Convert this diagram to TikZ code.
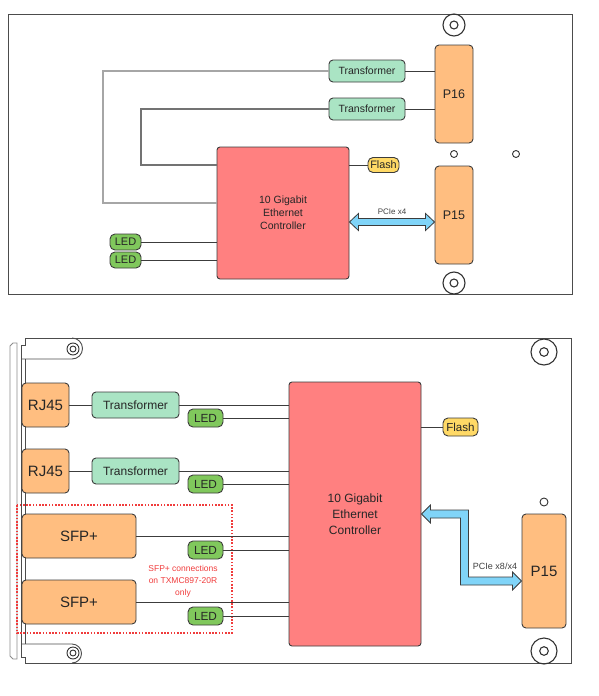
\documentclass[tikz,border=0pt]{standalone}
\usepackage{fontspec}
\setmainfont{Liberation Sans}
\usetikzlibrary{calc}
\definecolor{ctrlred}{RGB}{255,128,128}
\definecolor{trafogreen}{RGB}{170,228,196}
\definecolor{ledgreen}{RGB}{128,200,92}
\definecolor{flashyellow}{RGB}{255,217,102}
\definecolor{connorange}{RGB}{255,190,128}
\definecolor{pciblue}{RGB}{128,212,248}
\definecolor{edge}{RGB}{60,60,60}
\definecolor{notared}{RGB}{240,60,60}
\begin{document}
\begin{tikzpicture}[x=1pt,y=-1pt,
  caja/.style={draw=edge,line width=.9pt,rounded corners=3pt,inner sep=0pt,text=black!85},
  ctrlbox/.style={caja,fill=ctrlred,align=center,minimum width=132pt},
  trafobox/.style={caja,fill=trafogreen,rounded corners=4pt},
  ledbox/.style={caja,fill=ledgreen,rounded corners=5pt},
  flashbox/.style={caja,fill=flashyellow,rounded corners=5pt},
  connbox/.style={caja,fill=connorange,rounded corners=4pt},
  linea/.style={draw=edge,line width=.9pt},
  pcie/.style={fill=pciblue,draw=edge,line width=.8pt,line join=miter},
  pcilbl/.style={text=black!75,inner sep=0pt},
  aro/.style={draw=black!80,line width=1.1pt},
  placa/.style={draw=black!70,line width=.9pt},
  bisel/.style={draw=black!45,line width=.8pt}]
\useasboundingbox (0,0) rectangle (598,696);
%placa superior%
\draw[placa] (8,14) rectangle (572,294);
\foreach \cx/\cy in {454/25,454/283} {\draw[aro] (\cx,\cy) circle (11pt) circle (4pt);}
\foreach \cx in {454,516} {\draw[aro,line width=.9pt] (\cx,154) circle (3.5pt);}
\node[ctrlbox,minimum height=132pt,font=\fontsize{10.5}{13}\selectfont] (ctrlT) at (283,213) {10 Gigabit\\Ethernet\\Controller};
\node[trafobox,minimum width=76pt,minimum height=22pt,font=\fontsize{10.5}{12}\selectfont] (tfA) at (367,71) {Transformer};
\node[trafobox,minimum width=76pt,minimum height=22pt,font=\fontsize{10.5}{12}\selectfont] (tfB) at (367,109) {Transformer};
\node[connbox,minimum width=38pt,minimum height=98pt,font=\fontsize{12.5}{14}\selectfont] (p16) at (454,94) {P16};
\node[connbox,minimum width=38pt,minimum height=98pt,font=\fontsize{12.5}{14}\selectfont] (p15T) at (454,215) {P15};
\node[flashbox,minimum width=31pt,minimum height=15pt,font=\fontsize{10.8}{12}\selectfont] (flashT) at (383.5,165) {Flash};
\node[ledbox,minimum width=31pt,minimum height=16pt,font=\fontsize{11}{12}\selectfont] (ledA) at (125.5,242) {LED};
\node[ledbox,minimum width=31pt,minimum height=16pt,font=\fontsize{11}{12}\selectfont] (ledB) at (125.5,260) {LED};
\coordinate (gA) at (103,203);
\coordinate (gB) at (141,165);
\draw[draw=black!35,line width=1.2pt] (tfA.west) -| (gA) -- (gA -| ctrlT.west);
\draw[draw=black!55,line width=1.2pt] (tfB.west) -| (gB) -- (gB -| ctrlT.west);
\draw[linea] (tfA) -- (tfA -| p16.west);
\draw[linea] (tfB) -- (tfB -| p16.west);
\draw[linea] (flashT -| ctrlT.east) -- (flashT);
\draw[linea] (ledA) -- (ledA -| ctrlT.west);
\draw[linea] (ledB) -- (ledB -| ctrlT.west);
\coordinate (bL) at ($(ctrlT.east)+(0,9)$);
\coordinate (bR) at (bL -| p15T.west);
\filldraw[pcie] (bL) -- ++(9,-8.5) -- ++(0,5) -- ($(bR)+(-9,-3.5)$) -- ++(0,-5) -- (bR) -- ++(-9,8.5) -- ++(0,-5) -- ($(bL)+(9,3.5)$) -- ++(0,5) -- cycle;
\node[pcilbl,font=\fontsize{8}{9}\selectfont] (lblT) at ($(bL)!.5!(bR)+(0,-10)$) {PCIe x4};
%placa inferior%
\draw[placa] (25,338) -- (571,338) -- (571,663) -- (25,663);
\draw[placa] (21,345) -- (25,345) -- (25,338) (21,345) -- (21,657) -- (25,657) -- (25,663) (25,359) -- (25,644);
\draw[bisel] (13,343) -- (10,346) -- (10,656) -- (13,659) -- (17,659) -- (17,343) -- cycle;
\draw[placa] (21,359) -- (72,359) arc (-90:90:10.5pt);
\draw[placa] (21,644) -- (72,644) arc (90:-90:9.5pt);
\foreach \cx/\cy in {73/349,73/653} {\draw[aro,line width=.9pt] (\cx,\cy) circle (6pt) circle (3pt);}
\foreach \cx/\cy in {544/352,544/651} {\draw[aro] (\cx,\cy) circle (13pt) circle (4.3pt);}
\draw[aro,line width=.9pt] (544,502) circle (4pt);
\draw[draw=notared,line width=1.1pt,dash pattern=on 1.6pt off 1.6pt] (17,505) rectangle (232,633);
\node[text=notared,align=center,font=\fontsize{8.5}{11.8}\selectfont] (nota) at (183,581) {SFP+ connections\\on TXMC897-20R\\only};
\node[ctrlbox,minimum height=264pt,font=\fontsize{12}{16}\selectfont] (ctrlB) at (355,514) {10 Gigabit\\Ethernet\\Controller};
\node[connbox,minimum width=47pt,minimum height=44pt,font=\fontsize{15}{17}\selectfont] (rjA) at (45.5,405) {RJ45};
\node[connbox,minimum width=47pt,minimum height=44pt,font=\fontsize{15}{17}\selectfont] (rjB) at (45.5,471) {RJ45};
\node[connbox,minimum width=114pt,minimum height=44pt,font=\fontsize{15}{17}\selectfont] (sfpA) at (79,536) {SFP+};
\node[connbox,minimum width=114pt,minimum height=44pt,font=\fontsize{15}{17}\selectfont] (sfpB) at (79,602) {SFP+};
\node[trafobox,minimum width=87pt,minimum height=26pt,font=\fontsize{12}{14}\selectfont] (tfC) at (135.5,405) {Transformer};
\node[trafobox,minimum width=87pt,minimum height=26pt,font=\fontsize{12}{14}\selectfont] (tfD) at (135.5,471) {Transformer};
\foreach \n/\cy in {C/418,D/484,E/550,F/616}
  {\node[ledbox,minimum width=35pt,minimum height=18pt,font=\fontsize{11.8}{13}\selectfont] (led\n) at (205.5,\cy) {LED};}
\node[flashbox,minimum width=35pt,minimum height=18pt,font=\fontsize{11.6}{13}\selectfont] (flashB) at (460.5,427) {Flash};
\node[connbox,minimum width=44pt,minimum height=114pt,font=\fontsize{15}{17}\selectfont] (p15B) at (544,571) {P15};
\draw[linea] (rjA) -- (tfC);
\draw[linea] (rjB) -- (tfD);
\draw[linea] (tfC) -- (tfC -| ctrlB.west);
\draw[linea] (tfD) -- (tfD -| ctrlB.west);
\draw[linea] (sfpA) -- (sfpA -| ctrlB.west);
\draw[linea] (sfpB) -- (sfpB -| ctrlB.west);
\foreach \n in {C,D,E,F} {\draw[linea] (led\n) -- (led\n -| ctrlB.west);}
\draw[linea] (flashB -| ctrlB.east) -- (flashB);
\coordinate (aL) at (ctrlB.east);
\coordinate (aR) at ($(p15B.west)+(0,10)$);
\coordinate (kA) at ($(aR)+(-57,0)$);
\filldraw[pcie] (aL) -- ++(9,-9) -- ++(0,5) -- ($(kA|-aL)+(4,-4)$) -- ($(kA)+(4,-4)$) -- ($(aR)+(-9,-4)$) -- ++(0,-5) -- (aR) -- ++(-9,9) -- ++(0,-5) -- ($(kA)+(-4,4)$) -- ($(kA|-aL)+(-4,4)$) -- ($(aL)+(9,4)$) -- ++(0,5) -- cycle;
\node[pcilbl,font=\fontsize{9}{10}\selectfont] (lblB) at (495,566) {PCIe x8/x4};
\end{tikzpicture}
\end{document}
